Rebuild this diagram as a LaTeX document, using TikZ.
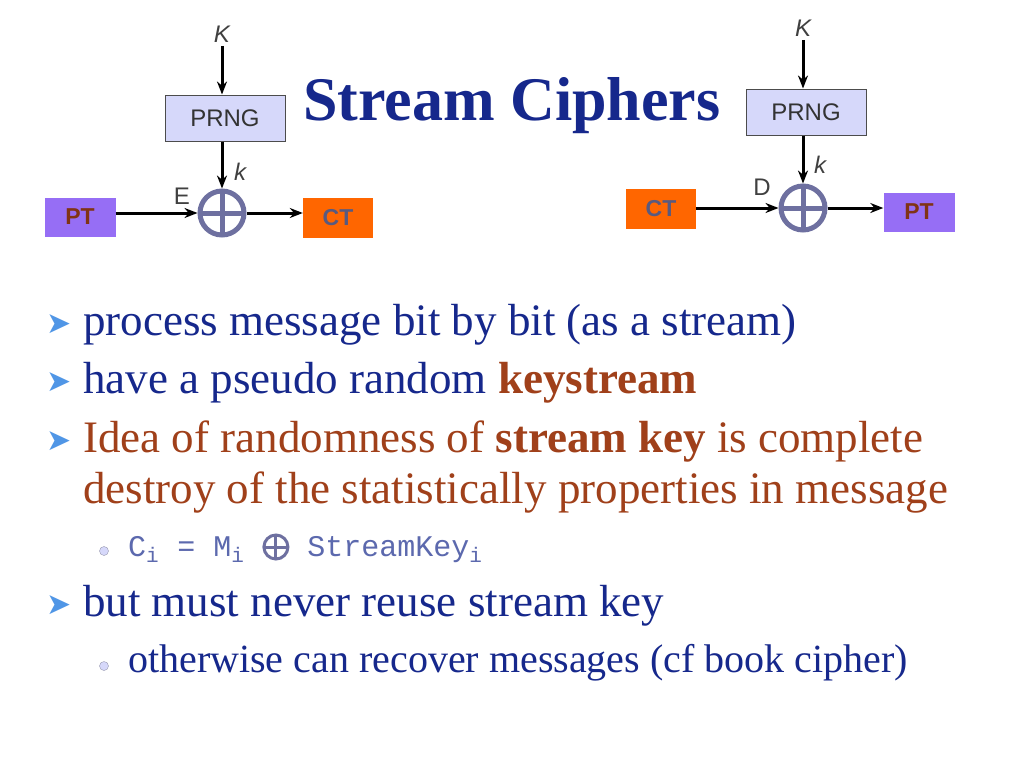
\documentclass[tikz,border=0pt]{standalone}
\usepackage{fontspec}
\setmainfont{Liberation Serif}
\newfontfamily\dsans{Liberation Sans}
\newfontfamily\dmono{Liberation Mono}
\newfontfamily\dvu{DejaVu Sans}
\usetikzlibrary{arrows.meta}
\definecolor{navy}{RGB}{22,40,140}
\definecolor{brn}{RGB}{160,64,26}
\definecolor{prng}{RGB}{214,216,250}
\definecolor{ptc}{RGB}{150,110,245}
\definecolor{ctc}{RGB}{255,102,0}
\definecolor{xorc}{RGB}{110,112,160}
\definecolor{bul}{RGB}{80,150,230}
\begin{document}
\begin{tikzpicture}[x=1pt,y=-1pt,
  prngbox/.style={draw=black!70,line width=1pt,fill=prng,minimum width=120pt,minimum height=46pt,font=\dsans\fontsize{24}{28}\selectfont,text=black!80},
  ptbox/.style={fill=ptc,minimum width=71pt,minimum height=39pt,font=\dsans\bfseries\fontsize{23}{26}\selectfont,text=brn!80!black},
  ctbox/.style={fill=ctc,minimum width=70pt,minimum height=40pt,font=\dsans\bfseries\fontsize{23}{26}\selectfont,text=xorc!80!black},
  xorn/.style={circle,draw=xorc,line width=5pt,minimum size=44pt,inner sep=0pt,path picture={\draw[xorc,line width=5pt](path picture bounding box.north)--(path picture bounding box.south)(path picture bounding box.west)--(path picture bounding box.east);}},
  lbl/.style={font=\dsans\fontsize{24}{28}\selectfont,text=black!75},
  arr/.style={-{Stealth[length=13pt,width=10pt]},line width=3pt},
  btxt/.style={anchor=base west,inner sep=0pt,font=\fontsize{45}{50}\selectfont,text=navy},
  bmark/.style={anchor=base west,inner sep=0pt,font=\dvu\fontsize{30}{32}\selectfont,text=bul},
  bdot/.style={circle,fill=prng,draw=prng!70!black,inner sep=0pt,minimum size=9pt}]
\useasboundingbox (0,0) rectangle (1024,768);
\fill[white](0,0) rectangle (1024,768);
\node[anchor=base,font=\bfseries\fontsize{62}{68}\selectfont,text=navy] (title) at (512,120) {Stream Ciphers};
% left
\node[lbl,font=\dsans\itshape\fontsize{24}{28}\selectfont] (K1) at (222,34) {K};
\node[prngbox] (P1) at (225,118) {PRNG};
\node[xorn] (X1) at (222,213) {};
\node[ptbox] (PT1) at (80,217) {PT};
\node[ctbox] (CT1) at (338,218) {CT};
\node[lbl,font=\dsans\itshape\fontsize{24}{28}\selectfont] (k1) at (240,172) {k};
\node[lbl] (E) at (182,196) {E};
\draw[arr] (K1.south) -- (K1.south |- P1.north);
\draw[arr] (K1.south |- P1.south) -- (X1.north);
\draw[arr] (PT1.east |- X1) -- (X1.west);
\draw[arr] (X1.east) -- (CT1.west |- X1);
% right
\node[lbl,font=\dsans\itshape\fontsize{24}{28}\selectfont] (K2) at (803,28) {K};
\node[prngbox] (P2) at (806,112) {PRNG};
\node[xorn] (X2) at (803,208) {};
\node[ctbox] (CT2) at (661,209) {CT};
\node[ptbox] (PT2) at (919,212) {PT};
\node[lbl,font=\dsans\itshape\fontsize{24}{28}\selectfont] (k2) at (820,165) {k};
\node[lbl] (D) at (762,187) {D};
\draw[arr] (K2.south) -- (K2.south |- P2.north);
\draw[arr] (K2.south |- P2.south) -- (X2.north);
\draw[arr] (CT2.east |- X2) -- (X2.west);
\draw[arr] (X2.east) -- (PT2.west |- X2);
% bullets
\node[bmark] (m1) at (46,333) {➤};
\node[btxt] (t1) at (83,335) {process message bit by bit (as a stream)};
\node[bmark] (m2) at (46,391) {➤};
\node[btxt] (t2) at (83,393) {have a pseudo random \textcolor{brn}{\bfseries keystream}};
\node[bmark] (m3) at (46,450) {➤};
\node[btxt,text=brn] (t3) at (83,452) {Idea of randomness of \textbf{stream key} is complete};
\node[btxt,text=brn] (t3b) at (83,503) {destroy of the statistically properties in message};
\node[bdot] (d1) at (104,551) {};
\node[anchor=base west,inner sep=0pt,font=\dmono\fontsize{30}{32}\selectfont,text=navy!70] (t4) at (128,556) {C\textsubscript{i} = M\textsubscript{i} \tikz[baseline=-9pt,x=1pt,y=1pt]{\draw[xorc,line width=3pt](0,0) circle (12pt);\draw[xorc,line width=3pt](-12,0)--(12,0)(0,-12)--(0,12);} StreamKey\textsubscript{i}};
\node[bmark] (m4) at (46,614) {➤};
\node[btxt] (t5) at (83,616) {but must never reuse stream key};
\node[bdot] (d2) at (104,666) {};
\node[btxt,font=\fontsize{40}{44}\selectfont] (t6) at (128,672) {otherwise can recover messages (cf book cipher)};
\end{tikzpicture}
\end{document}
